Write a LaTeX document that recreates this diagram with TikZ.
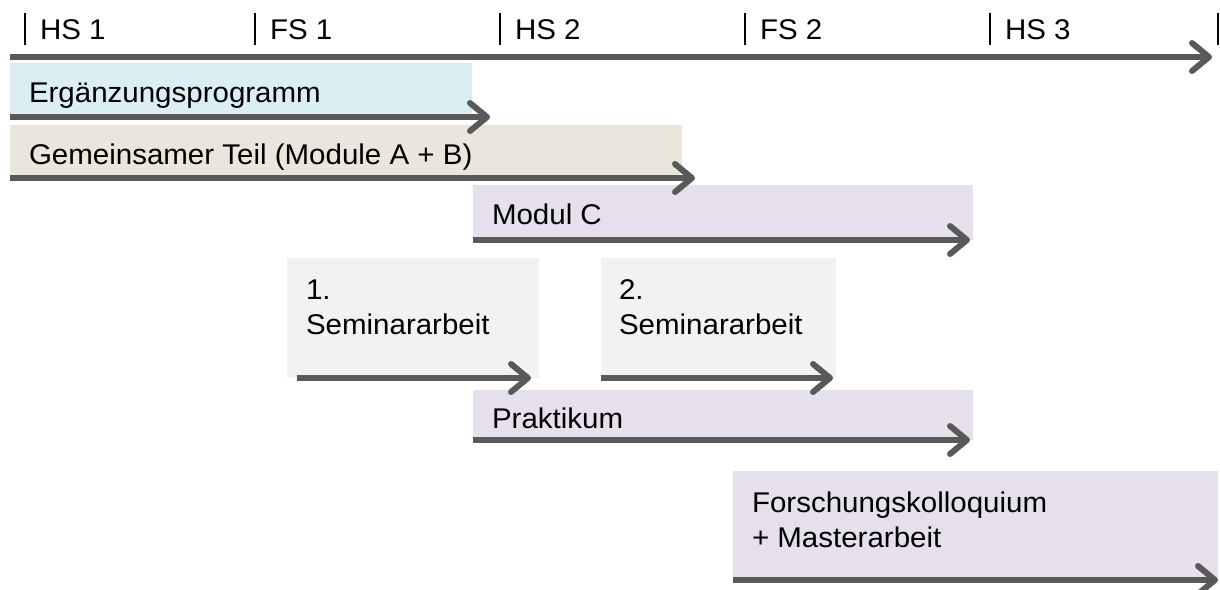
\documentclass[tikz,border=0pt]{standalone}
\usepackage{fontspec}
\setmainfont{Liberation Sans}[FakeStretch=1.035]
\usetikzlibrary{arrows.meta}
\definecolor{cBlue}{HTML}{DBEEF4}
\definecolor{cBeige}{HTML}{EAE6DC}
\definecolor{cLav}{HTML}{E5E0EC}
\definecolor{cGray}{HTML}{F2F2F2}
\definecolor{cArr}{HTML}{595959}
\tikzset{
  box/.style={draw=none, anchor=north west, inner sep=0pt, outer sep=0pt},
  lbl/.style={anchor=base west, inner sep=0pt, outer sep=0pt, text=black,
    font=\fontsize{28.5}{35}\selectfont},
  mlbl/.style={anchor=north west, inner sep=0pt, outer sep=0pt, text=black, align=left,
    font=\fontsize{28.5}{35}\selectfont},
  arr/.style={draw=cArr, line width=6pt, -{Straight Barb[length=17pt,width=28pt,round]}},
  tick/.style={draw=black, line width=2pt}
}
\begin{document}
\begin{tikzpicture}[x=1pt,y=-1pt]
\useasboundingbox (0,0) rectangle (1220,589);
% time axis
\coordinate (ax0) at (10,57);
\coordinate (ax1) at (1212,57);
\foreach \xx/\nm in {25/k1,255/k2,500/k3,745/k4,990/k5,1218/k6}{
  \coordinate (\nm a) at (\xx,13);
  \coordinate (\nm b) at (\xx,45);
  \draw[tick] (\nm a) -- (\nm b);
}
\node[lbl] (hs1) at (40,39.5) {HS 1};
\node[lbl] (fs1) at (270,39.5) {FS 1};
\node[lbl] (hs2) at (515,39.5) {HS 2};
\node[lbl] (fs2) at (760,39.5) {FS 2};
\node[lbl] (hs3) at (1005,39.5) {HS 3};
\draw[arr] (ax0) -- (ax1);
% boxes
\node[box, fill=cBlue, minimum width=462pt, minimum height=54pt] (b1) at (10,63) {};
\node[box, fill=cBeige, minimum width=672pt, minimum height=53pt] (b2) at (10,125) {};
\node[box, fill=cLav, minimum width=500pt, minimum height=55pt] (b3) at (473,185) {};
\node[box, fill=cGray, minimum width=252pt, minimum height=120pt] (b4) at (287,258) {};
\node[box, fill=cGray, minimum width=235pt, minimum height=120pt] (b5) at (601,258) {};
\node[box, fill=cLav, minimum width=500pt, minimum height=50pt] (b6) at (473,390) {};
\node[box, fill=cLav, minimum width=485pt, minimum height=109pt] (b7) at (733,471) {};
% labels
\node[lbl] (t1) at (29,102) {Ergänzungsprogramm};
\node[lbl] (t2) at (29,164) {Gemeinsamer Teil (Module A + B)};
\node[lbl] (t3) at (492,224) {Modul C};
\node[mlbl] (t4) at (306,280) {1.\\Seminararbeit};
\node[mlbl] (t5) at (619,280) {2.\\Seminararbeit};
\node[lbl] (t6) at (492,428) {Praktikum};
\node[mlbl] (t7) at (752,492) {Forschungskolloquium\\+ Masterarbeit};
% arrows
\draw[arr] (b1.south west) -- ([xshift=18pt]b1.south east);
\draw[arr] (b2.south west) -- ([xshift=13pt]b2.south east);
\draw[arr] (b3.south west) -- ([xshift=-3pt]b3.south east);
\draw[arr] ([xshift=10pt]b4.south west) -- ([xshift=-8pt]b4.south east);
\draw[arr] (b5.south west) -- ([xshift=-3pt]b5.south east);
\draw[arr] (b6.south west) -- ([xshift=-3pt]b6.south east);
\draw[arr] (b7.south west) -- (b7.south east);
\end{tikzpicture}
\end{document}
